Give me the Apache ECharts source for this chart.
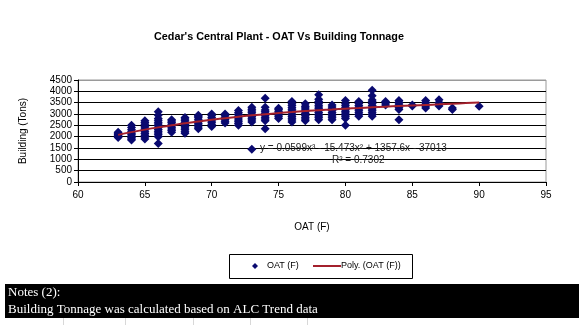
<!DOCTYPE html>
<html><head><meta charset="utf-8">
<script src="https://cdn.jsdelivr.net/npm/echarts@6/dist/echarts.min.js"></script>
<style>html,body{margin:0;padding:0;background:#fff}#c{width:579px;height:325px}</style>
</head><body><div id="c"></div>
<script>
// OAT (F) values with their measured building tonnage readings
var oatValues = [63,64,65,66,67,68,69,70,71,72,73,74,75,76,77,78,79,80,81,82,83,84,85,86,87,88,90];
var tonsByOAT = [
  [1960,2010,2060,2100,2150,2200],
  [1850,1900,1960,2020,2080,2150,2220,2300,2400,2500],
  [1900,1980,2060,2140,2220,2300,2380,2460,2550,2630,2700],
  [1700,2000,2080,2160,2240,2320,2400,2480,2560,2640,2720,2800,2950,3100],
  [2200,2270,2340,2410,2480,2550,2620,2690,2750],
  [2150,2220,2300,2380,2460,2540,2620,2700,2780,2850],
  [2350,2430,2510,2590,2670,2750,2830,2900,2950],
  [2450,2530,2610,2690,2770,2850,2930,3000],
  [2600,2680,2760,2840,2920,3000],
  [2500,2580,2660,2740,2820,2900,2980,3060,3150],
  [1450,2650,2730,2810,2890,2970,3050,3130,3210,3300],
  [2350,2700,2780,2860,2940,3020,3100,3180,3300,3700],
  [2800,2880,2960,3040,3120,3200,3250],
  [2650,2730,2810,2890,2970,3050,3130,3210,3290,3370,3450,3550],
  [2700,2780,2860,2940,3020,3100,3180,3260,3340,3450],
  [2750,2830,2910,2990,3070,3150,3230,3310,3390,3470,3550,3650,3850],
  [2750,2830,2910,2990,3070,3150,3230,3310,3400],
  [2500,2800,2880,2960,3040,3120,3200,3280,3360,3450,3600],
  [2900,2980,3060,3140,3220,3300,3380,3460,3550],
  [2900,2980,3060,3140,3220,3300,3380,3460,3540,3620,3800,4050],
  [3400,3480,3550],
  [2750,3200,3280,3360,3440,3520,3600],
  [3350,3400],
  [3270,3350,3430,3510,3600],
  [3350,3430,3510,3630],
  [3200,3270],
  [3340]
];
// Poly trendline
var trendOAT  = [63,64,65,66,67,68,69,70,71,72,73,74,75,76,77,78,79,80,81,82,83,84,85,86,87,88,89,90];
var trendTons = [2080,2200,2310,2410,2500,2590,2670,2750,2815,2880,2940,2990,3040,3085,3130,3170,3200,3235,3265,3295,3325,3350,3375,3400,3425,3455,3480,3505];
var xTicks = [60,65,70,75,80,85,90,95];
var yTicks = [0,500,1000,1500,2000,2500,3000,3500,4000,4500];
var seriesNames = ['OAT (F)', 'Poly. (OAT (F))'];

var scatterData = [];
oatValues.forEach(function(x,i){ tonsByOAT[i].forEach(function(v){ scatterData.push([x,v]); }); });
var trendData = trendOAT.map(function(x,i){ return [x, trendTons[i]]; });

var FONT = 'Liberation Sans';
var NAVY = '#0a0a70', RED = '#a3202c';
var chart = echarts.init(document.getElementById('c'));
var cellLines = [63,125,193,250,307].map(function(x){
  return {type:'line', z:9, shape:{x1:x+0.5, y1:318, x2:x+0.5, y2:325}, style:{stroke:'#d8d8d8', lineWidth:1}};
});
chart.setOption({
  animation:false,
  backgroundColor:'#fff',
  textStyle:{fontFamily:FONT},
  title:{text:"Cedar's Central Plant - OAT Vs Building Tonnage", left:149, top:27,
    textStyle:{fontFamily:FONT, fontSize:10.8, fontWeight:'bold', color:'#000'}},
  grid:{left:78, right:33, top:80, bottom:143, show:true, borderColor:'#9a9a9a', borderWidth:1},
  xAxis:{type:'value', min:xTicks[0], max:xTicks[xTicks.length-1], interval:5,
    name:'OAT (F)', nameLocation:'middle', nameGap:40,
    nameTextStyle:{fontFamily:FONT, fontSize:10, color:'#000'},
    axisLine:{lineStyle:{color:'#000'}}, axisTick:{length:4, lineStyle:{color:'#000'}},
    axisLabel:{color:'#000', fontSize:10, margin:8}, splitLine:{show:false}},
  yAxis:{type:'value', min:yTicks[0], max:yTicks[yTicks.length-1], interval:500,
    name:'Building (Tons)', nameLocation:'middle', nameGap:50,
    nameTextStyle:{fontFamily:FONT, fontSize:10, color:'#000'},
    axisLine:{show:true, lineStyle:{color:'#000'}}, axisTick:{show:true, length:4, lineStyle:{color:'#000'}},
    axisLabel:{color:'#000', fontSize:10, margin:6, formatter:function(v){return String(v);}},
    splitLine:{show:true, lineStyle:{color:['#000','#000','#000','#000','#000','#000','#000','#000','#000','#9a9a9a'], width:1}}},
  legend:{show:false, data:seriesNames},
  series:[
    {name:seriesNames[0], type:'scatter', symbol:'diamond', symbolSize:9,
     itemStyle:{color:NAVY, opacity:1}, data:scatterData, z:3},
    {name:seriesNames[1], type:'line', smooth:true, showSymbol:false, symbol:'none',
     lineStyle:{color:RED, width:2}, itemStyle:{color:RED}, data:trendData, z:4}
  ],
  graphic:[
    {type:'text', left:260, top:143, z:10, style:{text:'y = 0.0599x³ - 15.473x² + 1357.6x - 37013', fontFamily:FONT, fontSize:10, fill:'#222'}},
    {type:'text', left:332, top:155, z:10, style:{text:'R² = 0.7302', fontFamily:FONT, fontSize:10, fill:'#222'}},
    // legend box
    {type:'rect', left:229, top:254, z:10, shape:{width:183, height:24}, style:{fill:'#fff', stroke:'#000', lineWidth:1}},
    {type:'polygon', z:11, shape:{points:[[255,263],[258,266],[255,269],[252,266]]}, style:{fill:NAVY}},
    {type:'text', left:267, top:261, z:11, style:{text:seriesNames[0], fontFamily:FONT, fontSize:9, fill:'#000'}},
    {type:'line', z:11, shape:{x1:313, y1:266, x2:341, y2:266}, style:{stroke:RED, lineWidth:2}},
    {type:'text', left:341, top:261, z:11, style:{text:seriesNames[1], fontFamily:FONT, fontSize:9, fill:'#000'}},
    // notes block
    {type:'rect', left:5, top:284, z:10, shape:{width:574, height:34}, style:{fill:'#000'}},
    {type:'text', left:8, top:286, z:11, style:{text:'Notes (2):', fontFamily:'Liberation Serif', fontSize:13, fill:'#fff'}},
    {type:'text', left:8, top:303, z:11, style:{text:'Building Tonnage was calculated based on ALC Trend data', fontFamily:'Liberation Serif', fontSize:13, fill:'#fff'}}
  ].concat(cellLines)
});
</script></body></html>
